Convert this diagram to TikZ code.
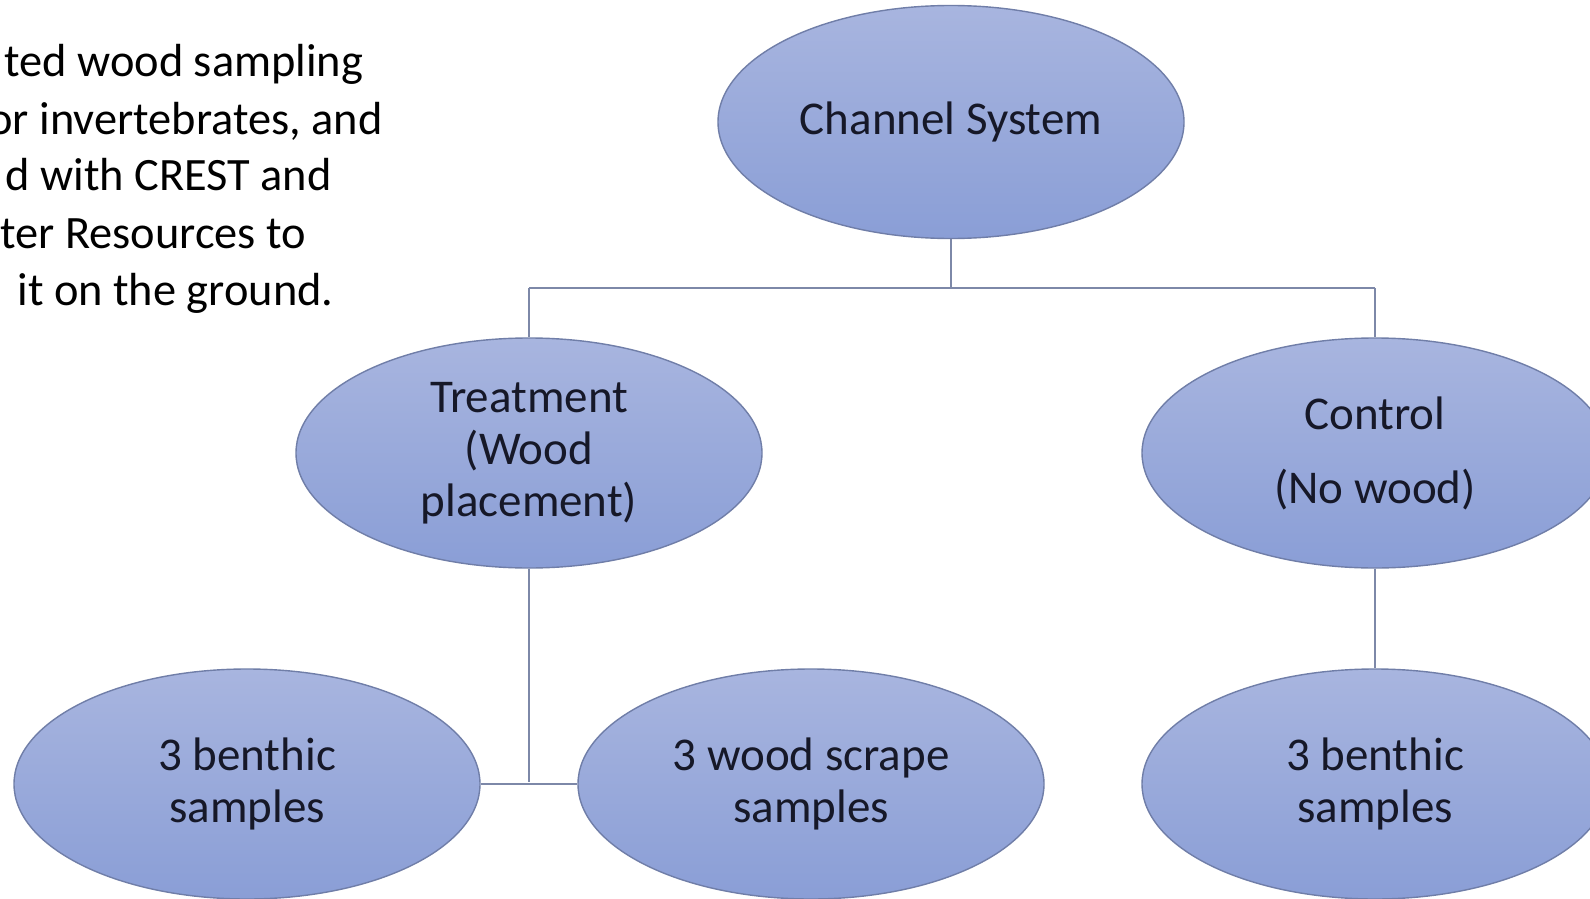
\documentclass[tikz,border=0pt]{standalone}
\usepackage{fontspec}
\setmainfont{Carlito}
\usetikzlibrary{shapes.geometric}
\definecolor{elltop}{RGB}{168,181,223}
\definecolor{ellbot}{RGB}{138,158,214}
\definecolor{ellline}{RGB}{112,126,168}
\definecolor{conn}{RGB}{125,136,168}
\definecolor{ink}{RGB}{22,24,40}
\tikzset{
  oval/.style={ellipse, draw=ellline, line width=0.7pt, top color=elltop, bottom color=ellbot,
    minimum width=233pt, minimum height=115pt, inner sep=0pt, align=center,
    text=ink, font=\fontsize{23.5}{26}\selectfont},
  link/.style={draw=conn, line width=1pt},
  para/.style={anchor=base west, inner sep=0pt, text=black, font=\fontsize{23.2}{28}\selectfont}
}
\begin{document}
\begin{tikzpicture}[x=0.5pt,y=-0.5pt]
\useasboundingbox (0,0) rectangle (1590,899);
\clip (0,0) rectangle (1590,899);
\fill[white] (0,0) rectangle (1590,899);
% paragraph fragment (cut off at the left edge in the original)
\node[para] (p1) at (4,77) {ted wood sampling};
\node[para] (p2) at (-12,134) {or invertebrates, and};
\node[para] (p3) at (5,191) {d with CREST and};
\node[para] (p4) at (0,248) {ter Resources to};
\node[para] (p5) at (17,305) {it on the ground.};
% nodes
\node[oval, minimum height=116.5pt] (ch) at (951,122) {Channel System};
\node[oval] (tr) at (529,453) {Treatment\\(Wood\\placement)};
\node[oval] (co) at (1375,453) {Control\\[11pt](No wood)};
\node[oval] (b1) at (247,784) {3 benthic\\samples};
\node[oval] (ws) at (811,784) {3 wood scrape\\samples};
\node[oval] (b2) at (1375,784) {3 benthic\\samples};
% connectors
\coordinate (j1) at (951,288);
\coordinate (jl) at (529,288);
\coordinate (jr) at (1375,288);
\coordinate (j2) at (529,782);
\draw[link] (ch.south) -- (j1);
\draw[link] (jl) -- (jr);
\draw[link] (jl) -- (tr.north);
\draw[link] (jr) -- (co.north);
\draw[link] (tr.south) -- (j2);
\draw[link] (b1.east) -- (ws.west);
\draw[link] (co.south) -- (b2.north);
\end{tikzpicture}
\end{document}
